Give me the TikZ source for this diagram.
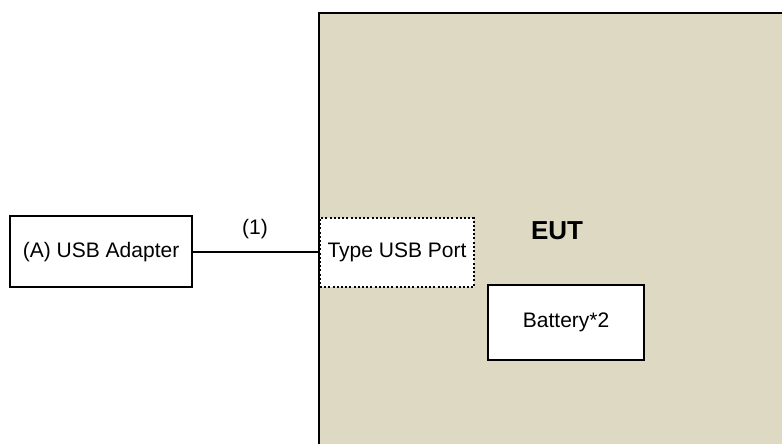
\documentclass[tikz,border=0pt]{standalone}
\usepackage{fontspec}
\setmainfont{Liberation Sans}
\definecolor{euttan}{RGB}{221,217,195}
\begin{document}
\begin{tikzpicture}[x=1pt,y=1pt,
  box/.style={draw=black,line width=2.2pt,fill=white,inner sep=0pt,font=\fontsize{21}{25}\selectfont},
  portbox/.style={draw=black,line width=2pt,dash pattern=on 2pt off 2.2pt,fill=white,inner sep=0pt,font=\fontsize{21}{25}\selectfont},
  lbl/.style={inner sep=0pt,font=\fontsize{21}{25}\selectfont},
  conn/.style={line width=2pt}]
\useasboundingbox (0,0) rectangle (782,-444);
\clip (0,0) rectangle (782,-444);
\fill[white] (0,0) rectangle (782,-444);
% EUT enclosure (extends past right and bottom edges)
\node[draw=black,line width=2.4pt,fill=euttan,minimum width=500pt,minimum height=460pt,anchor=north west,inner sep=0pt] (eut) at (318,-12) {};
\node[font=\fontsize{26}{30}\selectfont\bfseries,inner sep=0pt] (euttext) at (557,-231) {EUT};
\node[portbox,minimum width=154pt,minimum height=69pt,anchor=north west] (port) at (319,-217) {Type USB Port};
\node[box,minimum width=156pt,minimum height=75pt,anchor=north west] (bat) at (487,-284) {Battery*2};
\node[box,minimum width=182pt,minimum height=71pt,anchor=north west] (adapter) at (9,-215) {(A) USB Adapter};
\draw[conn] (adapter.east) -- (eut.west |- adapter.east) coordinate (cend);
\node[lbl] (cable) at (255,-229) {(1)};
\end{tikzpicture}
\end{document}
